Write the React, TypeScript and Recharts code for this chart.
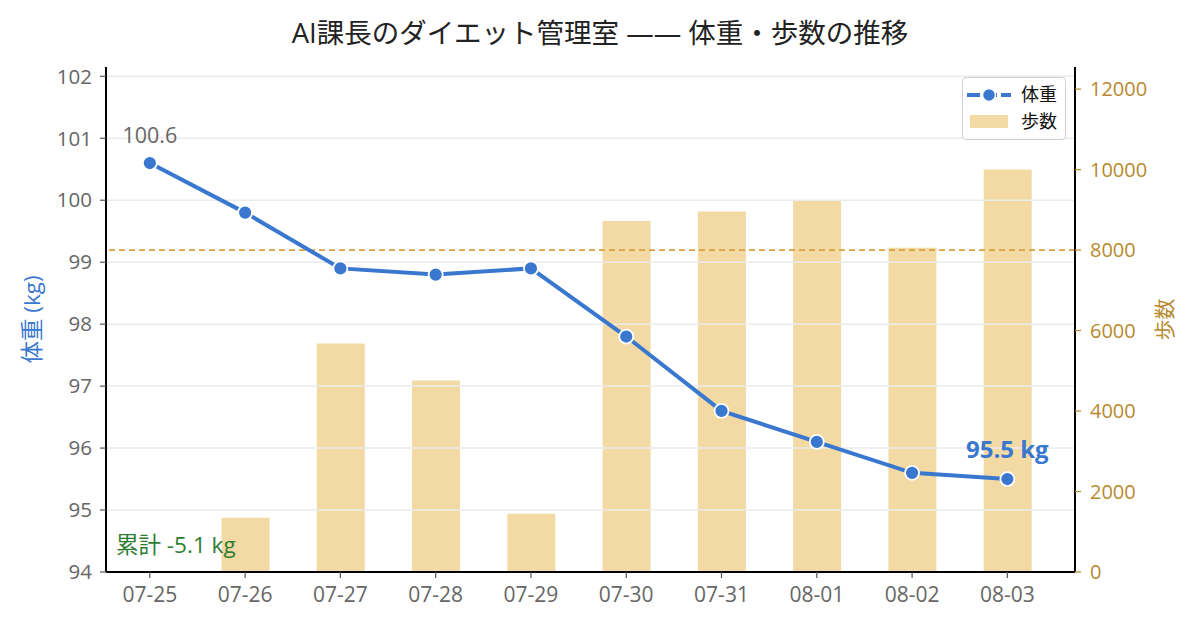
import React from 'react';
import {
  ComposedChart, Line, Bar, XAxis, YAxis, ReferenceLine, LabelList, Legend,
} from 'recharts';

const dates = ['07-25', '07-26', '07-27', '07-28', '07-29', '07-30', '07-31', '08-01', '08-02', '08-03'];
const weights = [100.6, 99.8, 98.9, 98.8, 98.9, 97.8, 96.6, 96.1, 95.6, 95.5];
const steps = [0, 1350, 5680, 4760, 1450, 8720, 8960, 9240, 8060, 10000];
const weightTicks = [94, 95, 96, 97, 98, 99, 100, 101, 102];
const stepTicks = [0, 2000, 4000, 6000, 8000, 10000, 12000];
const stepGoal = 8000;

const data = dates.map((d, i) => ({ i, date: d, weight: weights[i], steps: steps[i] }));

const FONT = '"Open Sans", "Noto Sans CJK JP", sans-serif';
const BLUE = '#3a78d0';
const GOLD = '#b8892e';
const BAR = '#f3d9a3';
const TICK_GRAY = '#555555';

const totalChange = (weights[weights.length - 1] - weights[0]).toFixed(1);

const PointLabel = (props: any) => {
  const { x, y, index, value } = props;
  if (index === 0) {
    return (
      <text x={x} y={y - 20} textAnchor="middle" fontSize={21.5} fill="#666" fontFamily={FONT}>
        {value.toFixed(1)}
      </text>
    );
  }
  if (index === weights.length - 1) {
    return (
      <text x={x} y={y - 21} textAnchor="middle" fontSize={24} fontWeight="bold" fill={BLUE} fontFamily={FONT}>
        {value.toFixed(1)} kg
      </text>
    );
  }
  return null;
};

const LegendBox = () => (
  <div
    style={{
      border: '1px solid #d0d0d0', borderRadius: 4, background: 'rgba(255,255,255,0.9)',
      width: 104, height: 63, boxSizing: 'border-box', fontFamily: FONT, fontSize: 18, color: '#111',
      padding: '3px 0 0 3px', lineHeight: '27px',
    }}
  >
    <div style={{ display: 'flex', alignItems: 'center', height: 27 }}>
      <svg width={46} height={16} style={{ marginRight: 9 }}>
        <line x1={1} y1={8} x2={45} y2={8} stroke={BLUE} strokeWidth={4} strokeDasharray="13 4" />
        <circle cx={23} cy={8} r={6.5} fill={BLUE} stroke="#fff" strokeWidth={1.5} />
      </svg>
      <span>体重</span>
    </div>
    <div style={{ display: 'flex', alignItems: 'center', height: 27 }}>
      <svg width={46} height={16} style={{ marginRight: 9 }}>
        <rect x={4} y={1} width={38} height={13} fill={BAR} />
      </svg>
      <span>歩数</span>
    </div>
  </div>
);

export default function App() {
  return (
    <div style={{ position: 'absolute', left: 0, top: 0, width: 1200, height: 630, background: '#fff' }}>
      <div
        style={{
          position: 'absolute', left: 0, top: 13, width: 1200, textAlign: 'center',
          fontFamily: FONT, fontSize: 27.5, color: '#222', lineHeight: '40px',
        }}
      >
        AI課長のダイエット管理室 —— 体重・歩数の推移
      </div>
      <ComposedChart
        width={1200}
        height={630}
        data={data}
        margin={{ top: 67, right: 0, bottom: 0, left: 0 }}
        style={{ position: 'absolute', left: 0, top: 0 }}
      >
        <XAxis
          dataKey="i"
          type="number"
          xAxisId="x"
          domain={[-0.46, 9.71]}
          ticks={[0, 1, 2, 3, 4, 5, 6, 7, 8, 9]}
          tickFormatter={(v: number) => dates[v]}
          allowDataOverflow
          height={58}
          axisLine={{ stroke: '#000', strokeWidth: 2 }}
          tickLine={{ stroke: TICK_GRAY, strokeWidth: 1.2 }}
          tickSize={6}
          tick={{ fill: '#666', fontSize: 21, fontFamily: FONT }}
          tickMargin={9}
        />
        <YAxis
          yAxisId="w"
          orientation="left"
          width={106}
          domain={[94, 102.15]}
          ticks={weightTicks}
          allowDataOverflow
          axisLine={{ stroke: '#000', strokeWidth: 2 }}
          tickLine={{ stroke: TICK_GRAY, strokeWidth: 1.2 }}
          tickSize={6}
          tickMargin={8}
          tick={{ fill: '#666', fontSize: 20.5, fontFamily: FONT }}
          label={{ value: '体重 (kg)', angle: -90, position: 'center', dx: -21, fill: BLUE, fontSize: 22.5, fontFamily: FONT }}
        />
        <YAxis
          yAxisId="s"
          orientation="right"
          width={125}
          domain={[0, 12550]}
          ticks={stepTicks}
          allowDataOverflow
          axisLine={{ stroke: '#000', strokeWidth: 2 }}
          tickLine={{ stroke: GOLD, strokeWidth: 1.2 }}
          tickSize={6}
          tickMargin={9}
          tick={{ fill: GOLD, fontSize: 20, fontFamily: FONT }}
          label={{ value: '歩数', angle: -90, position: 'center', dx: 27, fill: GOLD, fontSize: 21, fontFamily: FONT }}
        />
        <Bar
          xAxisId="x"
          yAxisId="s"
          dataKey="steps"
          fill={BAR}
          barSize={48}
          isAnimationActive={false}
        />
        {weightTicks.map((t) => (
          <ReferenceLine key={t} xAxisId="x" yAxisId="w" y={t} stroke="#ebebeb" strokeWidth={1.5} />
        ))}
        <ReferenceLine
          xAxisId="x"
          yAxisId="s"
          y={stepGoal}
          stroke="#d9a040"
          strokeWidth={1.6}
          strokeDasharray="6 4"
        />
        <Line
          xAxisId="x"
          yAxisId="w"
          dataKey="weight"
          stroke={BLUE}
          strokeWidth={4}
          dot={{ r: 7, fill: BLUE, stroke: '#fff', strokeWidth: 1.8 }}
          activeDot={false}
          isAnimationActive={false}
        >
          <LabelList dataKey="weight" content={PointLabel} />
        </Line>
        <Legend
          content={LegendBox}
          layout="horizontal"
          align="center"
          verticalAlign="middle"
          wrapperStyle={{ position: 'absolute', left: 962, top: 77, width: 104, height: 63 }}
        />
      </ComposedChart>
      <div
        style={{
          position: 'absolute', left: 116, top: 531, fontFamily: FONT, fontSize: 22.5, color: '#2e7d32',
          lineHeight: '27px',
        }}
      >
        累計 {totalChange} kg
      </div>
    </div>
  );
}
